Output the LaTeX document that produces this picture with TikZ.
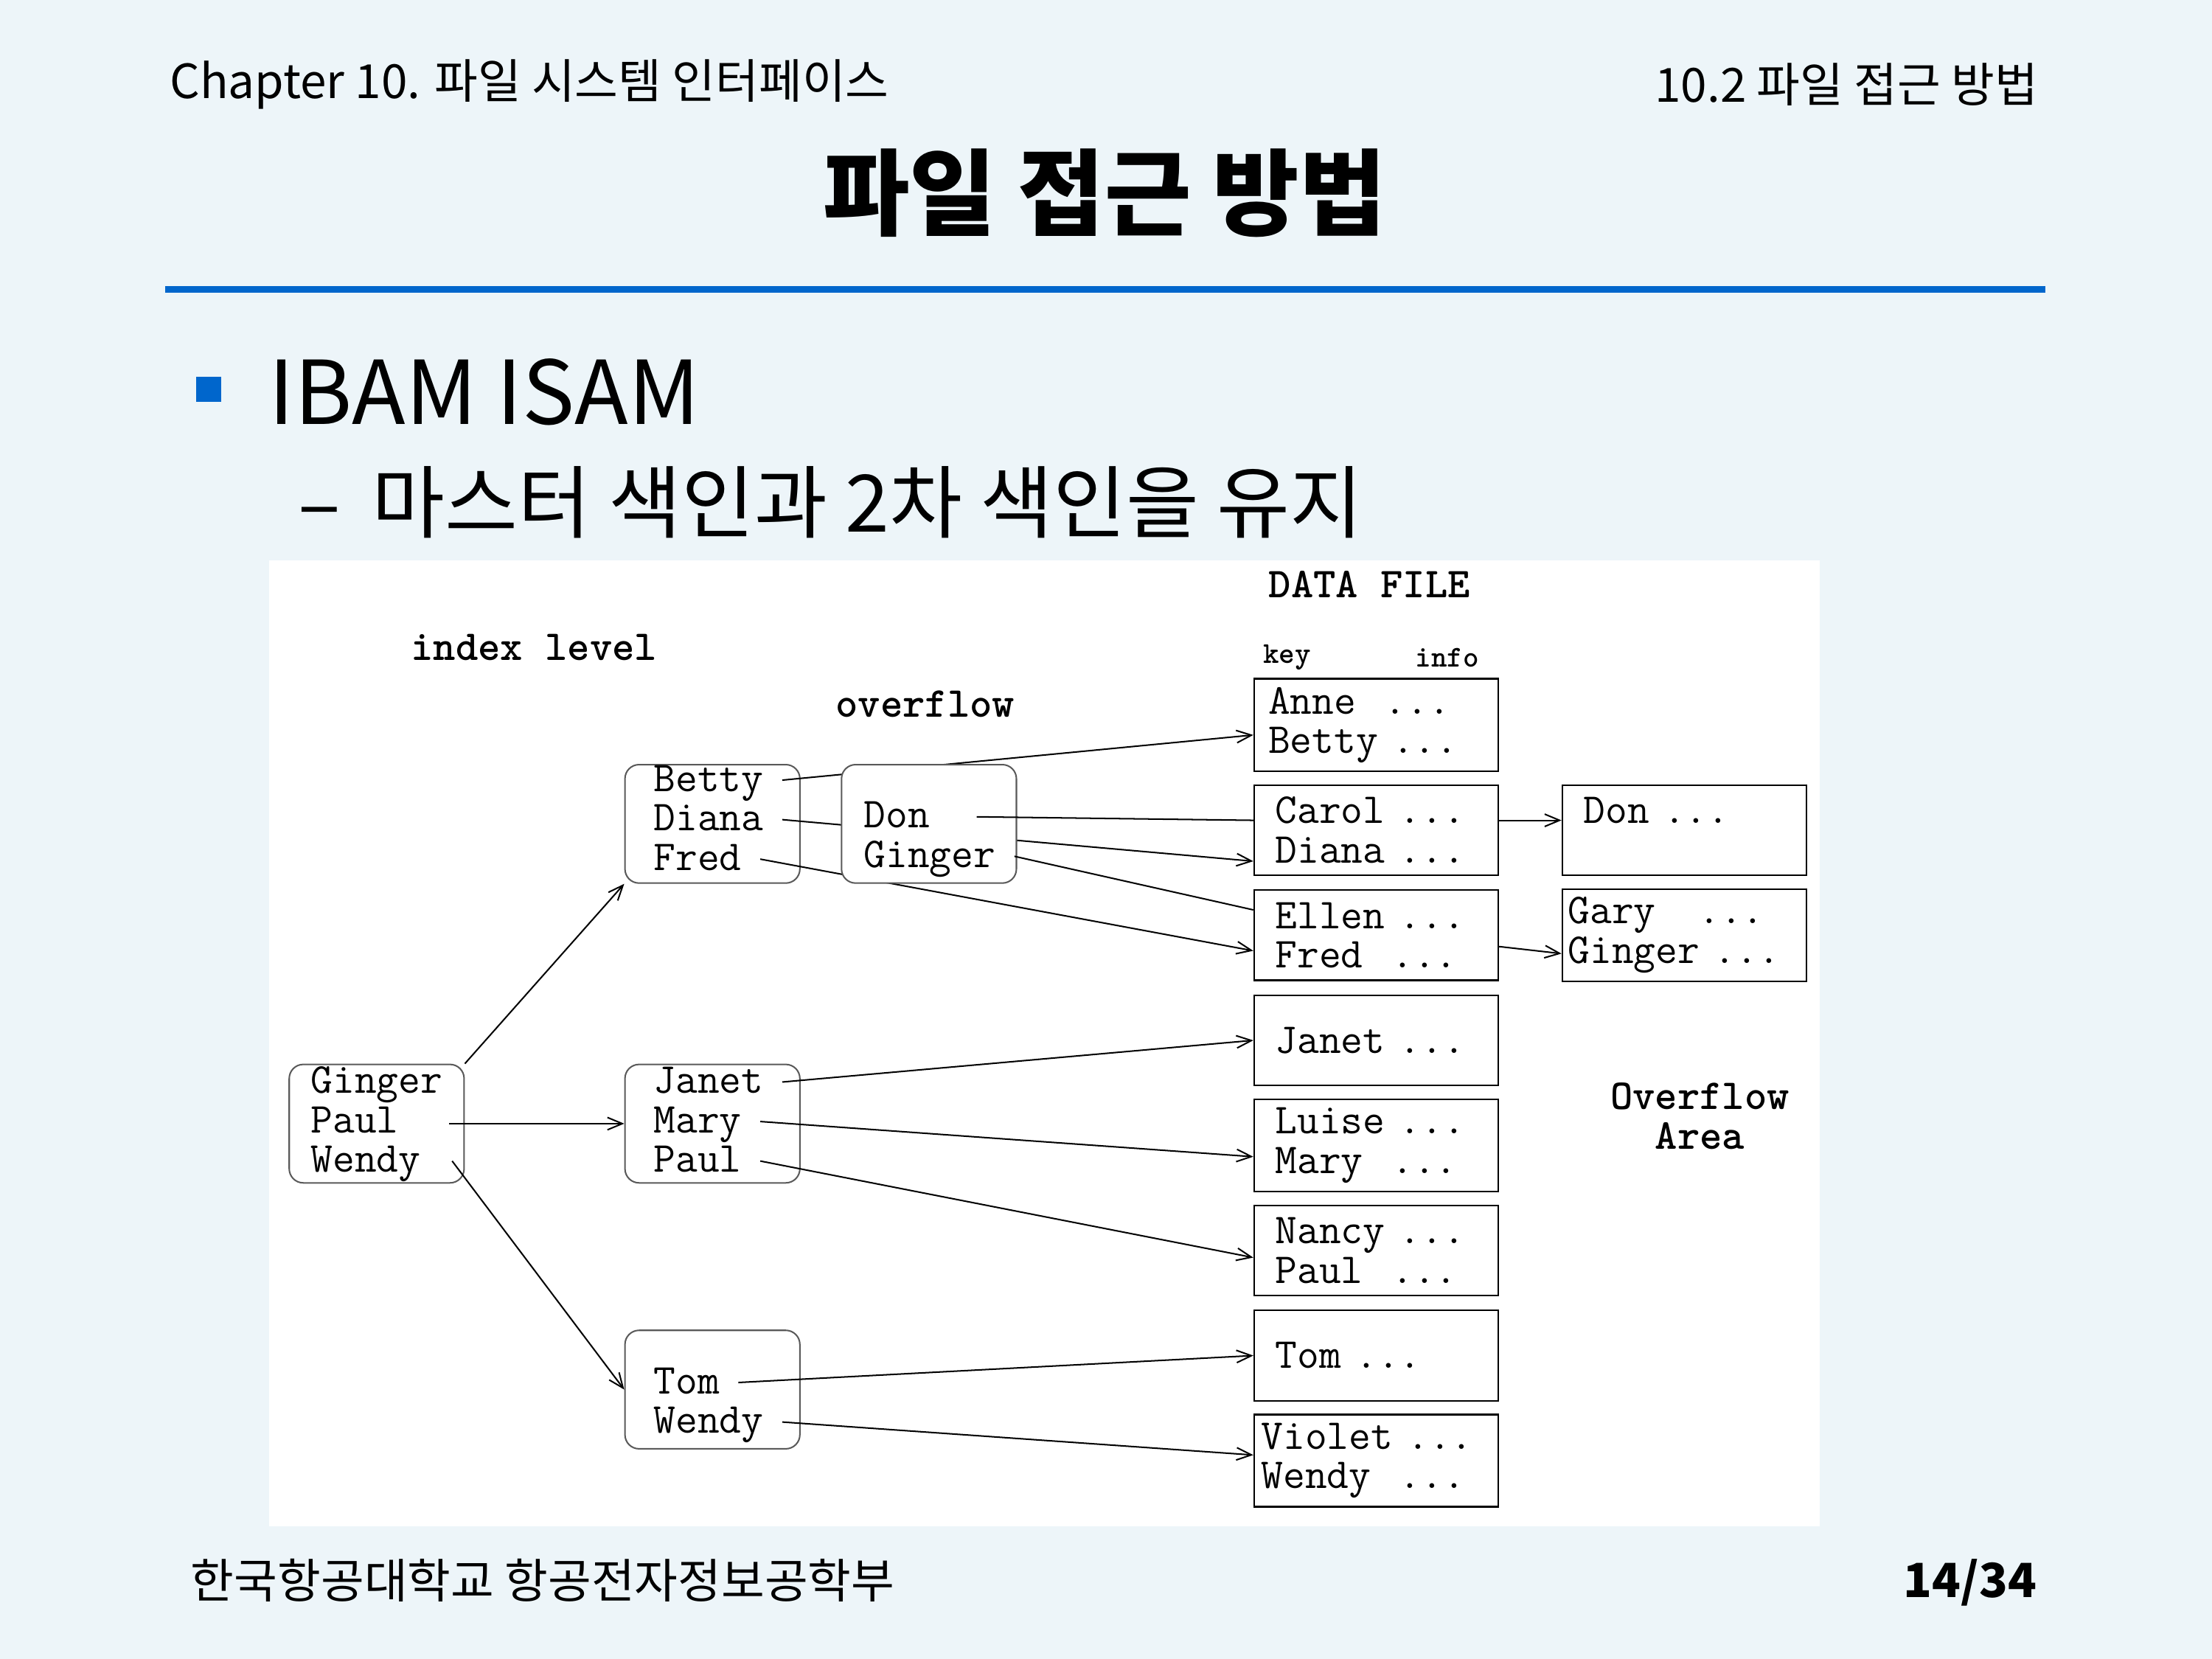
\documentclass[tikz,border=0pt]{standalone}
\usepackage{fontspec}
\setmainfont{Noto Sans CJK KR}
\usetikzlibrary{shapes,arrows.meta,positioning}
\definecolor{slidebg}{RGB}{237,245,249}
\definecolor{slideblue}{RGB}{0,102,204}
\newcommand{\diagfont}{\ttfamily\fontsize{17.2}{16}\selectfont}
\tikzstyle{idxbox} = [rectangle, draw=black!65, rounded corners=0.2cm, line width=0.6pt,
	minimum width=2.48cm, minimum height=1.68cm, inner sep=0pt]
\tikzstyle{databox} = [rectangle, draw, line width=0.7pt, fill=white,
	text width=2.86cm, inner xsep=0.3cm, minimum height=1.28cm, align=left, font=\diagfont]
\tikzstyle{keytext} = [anchor=west, inner xsep=0.26cm, inner ysep=0pt,
	text height=9pt, text depth=0pt, font=\diagfont]
\tikzstyle{heading} = [anchor=west, inner sep=0pt, font=\diagfont\bfseries]
\tikzstyle{line} = [draw, line width=0.6pt, -{Straight Barb[length=6pt,width=5pt]}]
\tikzstyle{link} = [draw, line width=0.6pt]

\begin{document}
\begin{tikzpicture}[x=0.02cm, y=-0.02cm, node distance=1.49cm]
	\useasboundingbox (0,0) rectangle (1568,1176);
	% Slide frame
	\fill[slidebg] (0,0) rectangle (1568,1176);
	\node [anchor=west, inner sep=0pt, font=\fontsize{19}{22}\selectfont] (chap) at (120,60) {Chapter 10. 파일 시스템 인터페이스};
	\node [anchor=east, inner sep=0pt, font=\fontsize{19}{22}\selectfont] (sect) at (1445,60) {10.2 파일 접근 방법};
	\node [inner sep=0pt, font=\fontsize{38}{44}\selectfont\bfseries] (title) at (783,137) {파일 접근 방법};
	\draw[slideblue, line width=2.8pt] (117,205) -- (1450,205);
	\fill[slideblue] (139,267) rectangle (157,285);
	\node [anchor=west, inner sep=0pt, font=\fontsize{35.5}{40}\selectfont] (topic) at (190,278) {IBAM ISAM};
	\node [anchor=west, inner sep=0pt, font=\fontsize{32}{36}\selectfont] (sub) at (211,356) {–\hspace{0.4em}마스터 색인과 2차 색인을 유지};
	\node [anchor=west, inner sep=0pt, font=\fontsize{19}{22}\selectfont] (school) at (135,1120) {한국항공대학교 항공전자정보공학부};
	\node [anchor=east, inner sep=0pt, font=\fontsize{19}{22}\selectfont\bfseries] (page) at (1444,1122) {14/34};
	\fill[white] (191,397) rectangle (1290,1082);

	% Place nodes
	\node [heading] (idxlbl) at (291,459) {index level};
	\node [heading] (ovflbl) at (592,499) {overflow};
	\node [heading] (datalbl) at (899,414) {DATA FILE};
	\node [heading, font=\ttfamily\bfseries\fontsize{12.2}{14}\selectfont] (keylbl) at (895,466) {key};
	\node [heading, font=\ttfamily\bfseries\fontsize{12.2}{14}\selectfont] (infolbl) at (1003,466) {info};
	\node [heading, anchor=center, align=center] (arealbl) at (1205,791) {Overflow\\Area};

	\node [idxbox] (root) at (267,796.5) {};
	\node [keytext] (kGinger) at (207,767) {Ginger};
	\node [keytext] (kPaul) at (207,795) {Paul};
	\node [keytext] (kWendy) at (207,823) {Wendy};

	\node [idxbox] (n1) at (505,584) {};
	\node [keytext] (kBetty) at (450,553) {Betty};
	\node [keytext] (kDiana) at (450,581) {Diana};
	\node [keytext] (kFred) at (450,609) {Fred};

	\node [idxbox] (n2) at (505,796.5) {};
	\node [keytext] (kJanet) at (450,767) {Janet};
	\node [keytext] (kMary) at (450,795) {Mary};
	\node [keytext] (kPaulB) at (450,823) {Paul};

	\node [idxbox] (n3) at (505,985) {};
	\node [keytext] (kTom) at (450,980) {Tom};
	\node [keytext] (kWendyB) at (450,1008) {Wendy};

	\node [databox, inner xsep=0.2cm, text width=3.06cm] (d1) at (975.5,514) {Anne~~...\\Betty ...};
	\node [databox, below of=d1] (d2) {Carol ...\\Diana ...};
	\node [databox, below of=d2] (d3) {Ellen ...\\Fred~~...};
	\node [databox, below of=d3] (d4) {Janet ...};
	\node [databox, below of=d4] (d5) {Luise ...\\Mary~~...};
	\node [databox, below of=d5] (d6) {Nancy ...\\Paul~~...};
	\node [databox, below of=d6] (d7) {Tom ...};
	\node [databox, below of=d7, inner xsep=0.1cm, text width=3.26cm] (d8) {Violet ...\\Wendy~~...};
	\node [databox, node distance=4.37cm, right of=d2] (o1) {Don ...\\~};
	\node [databox, node distance=4.37cm, right of=d3, inner xsep=0.08cm, text width=3.3cm] (o2) {Gary~~~...\\Ginger ...};

	% Draw edges
	\path [line] (root.north east) -- (n1.south west);
	\path [line] ([xshift=-0.22cm]root.east) -- (n2.west);
	\path [line] ([xshift=-0.18cm,yshift=-0.53cm]root.east) -- (n3.west);
	\path [line] (kBetty.east) -- ([yshift=-0.14cm]d1.west);
	\path [line] (kDiana.east) -- ([yshift=-0.44cm]d2.west);
	\path [line] (kFred.east) -- ([yshift=-0.22cm]d3.west);
	\path [line] (kJanet.east) -- (d4.west);
	\path [line] (kMary.east) -- ([yshift=-0.16cm]d5.west);
	\path [line] (kPaulB.east) -- ([yshift=-0.1cm]d6.west);
	\path [line] (kTom.east) -- (d7.west);
	\path [line] (kWendyB.east) -- ([yshift=0.08cm]d8.west);

	% Overflow index block
	\node [idxbox, fill=white] (ovf) at (658.5,584) {};
	\node [keytext] (kDon) at (599,579) {Don};
	\node [keytext] (kGingerB) at (599,607) {Ginger};
	\path [link] ([xshift=0.4cm]kDon.east) -- ([yshift=0.14cm]d2.west);
	\path [line] ([yshift=0.14cm]d2.east) -- ([yshift=0.14cm]o1.west);
	\path [link] (kGingerB.east) -- ([yshift=0.36cm]d3.west);
	\path [line] ([yshift=-0.16cm]d3.east) -- ([yshift=-0.26cm]o2.west);
\end{tikzpicture}
\end{document}
